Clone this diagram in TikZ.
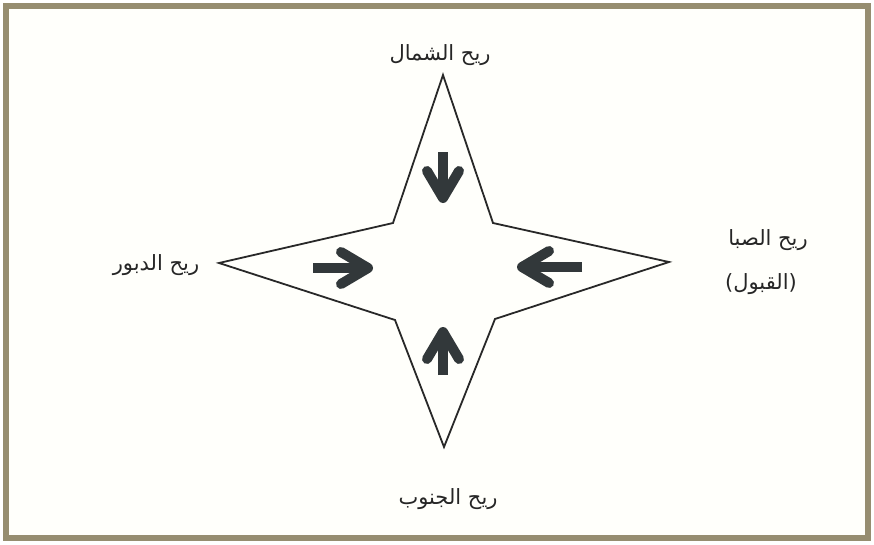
\documentclass[tikz,border=0pt]{standalone}
\usepackage{fontspec}
\newfontfamily\arabicfont[Script=Arabic]{DejaVu Sans}
\TeXXeTstate=1
\definecolor{framecol}{RGB}{150,141,112}
\definecolor{paper}{RGB}{255,255,251}
\definecolor{arrowcol}{RGB}{50,56,58}
\definecolor{starcol}{RGB}{40,40,40}
\begin{document}
\begin{tikzpicture}[x=1pt,y=-1pt,
  frame/.style={draw=framecol,line width=6pt,fill=paper},
  starline/.style={draw=starcol,line width=1.8pt,line join=miter,fill=paper},
  shaft/.style={draw=arrowcol,line width=10pt,line cap=butt},
  head/.style={draw=arrowcol,line width=10pt,line cap=round,line join=round},
  lab/.style={font=\arabicfont\fontsize{21}{25}\selectfont,text=black!85,inner sep=0pt}]
\useasboundingbox (0,0) rectangle (874,544);
\fill[white] (0,0) rectangle (874,544);
\draw[frame] (6,6) rectangle (868,538);
% star
\coordinate (N) at (443,75);
\coordinate (NE) at (493,223);
\coordinate (E) at (669,262);
\coordinate (SE) at (495,319);
\coordinate (S) at (444,447);
\coordinate (SW) at (395,320);
\coordinate (W) at (219,263);
\coordinate (NW) at (393,223);
\draw[starline] (N) -- (NE) -- (E) -- (SE) -- (S) -- (SW) -- (W) -- (NW) -- cycle;
% arrows
\draw[shaft] (443,152) -- (443,194);
\draw[head] (427,171) -- (443,198) -- (459,171);
\draw[shaft] (443,375) -- (443,336);
\draw[head] (427,359) -- (443,332) -- (459,359);
\draw[shaft] (313,268) -- (364,268);
\draw[head] (341,252) -- (368,268) -- (341,284);
\draw[shaft] (582,267) -- (526,267);
\draw[head] (549,251) -- (522,267) -- (549,283);
% labels
\node[lab] (north) at (440,55) {\beginR ريح الشمال\endR};
\node[lab] (east) at (768,240) {\beginR ريح الصبا\endR};
\node[lab] (east2) at (761,284) {\beginR (القبول)\endR};
\node[lab] (west) at (156,265) {\beginR ريح الدبور\endR};
\node[lab] (south) at (448,499) {\beginR ريح الجنوب\endR};
\end{tikzpicture}
\end{document}
